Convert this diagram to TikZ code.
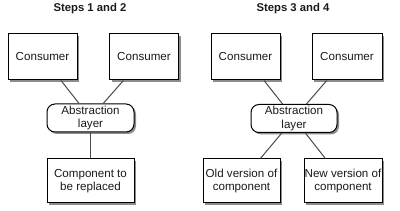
\documentclass[tikz,border=0pt]{standalone}
\usepackage{fontspec}
\setmainfont{Liberation Sans}
\usetikzlibrary{shadows}
\definecolor{txt}{HTML}{1A1A1A}
\definecolor{conn}{HTML}{4A4A4A}
\tikzset{
  box/.style={draw=black, line width=1pt, fill=white, inner sep=0pt, align=center,
    text=txt, font=\fontsize{11.6}{13.4}\selectfont,
    drop shadow={shadow xshift=2pt, shadow yshift=-2pt, opacity=0.45, fill=black}},
  consumer/.style={box, minimum width=69pt, minimum height=46pt},
  layer/.style={box, rounded corners=8pt, minimum width=87pt, minimum height=28pt},
  comp/.style={box, minimum height=44pt},
  title/.style={font=\bfseries\fontsize{11.3}{13}\selectfont, text=txt, inner sep=0pt},
  link/.style={draw=conn, line width=1pt}
}
\begin{document}
\begin{tikzpicture}[x=1pt, y=-1pt]
\useasboundingbox (0,0) rectangle (400,211);
% left panel
\node[title] (t1) at (90,9) {Steps 1 and 2};
\node[consumer] (c1) at (42.5,57) {Consumer};
\node[consumer] (c2) at (144,57) {Consumer};
\node[layer] (a1) at (90.5,118) {Abstraction\\layer};
\node[comp, minimum width=87pt] (r1) at (90.5,181) {Component to\\be replaced};
\draw[link] (c1) -- (a1);
\draw[link] (c2) -- (a1);
\draw[link] (a1) -- (r1);
% right panel
\node[title] (t2) at (293,9) {Steps 3 and 4};
\node[consumer] (c3) at (245.5,57) {Consumer};
\node[consumer, minimum width=70pt] (c4) at (347,57) {Consumer};
\node[layer, minimum width=86pt] (a2) at (294,118.5) {Abstraction\\layer};
\node[comp, minimum width=77pt] (o2) at (241.5,181) {Old version of\\component};
\node[comp, minimum width=78pt] (n2) at (343,181) {New version of\\component};
\draw[link] (c3) -- (a2);
\draw[link] (c4) -- (a2);
\draw[link] (a2) -- (o2);
\draw[link] (a2) -- (n2);
\end{tikzpicture}
\end{document}
